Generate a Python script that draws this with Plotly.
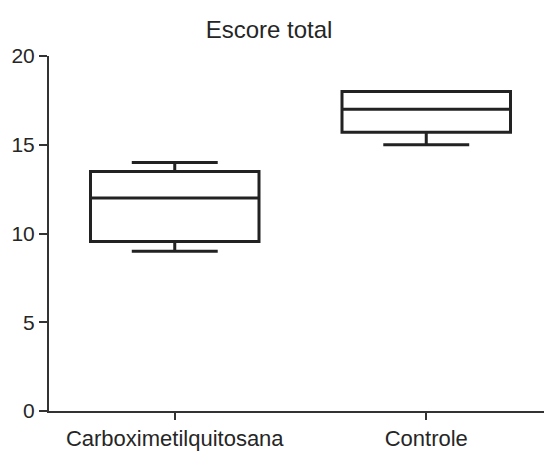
import plotly.graph_objects as go

categories = ["Carboximetilquitosana", "Controle"]
q1 = [9.55, 15.7]
median = [12.0, 17.0]
q3 = [13.5, 18.0]
lower = [9.0, 15.0]
upper = [14.0, 18.0]
y_ticks = [0, 5, 10, 15, 20]

W, H = 544, 443

fig = go.Figure()
fig.add_trace(go.Box(
    x=categories, q1=q1, median=median, q3=q3,
    lowerfence=lower, upperfence=upper,
    width=0.67, whiskerwidth=0.51,
    line=dict(color="#222222", width=3),
    fillcolor="rgba(0,0,0,0)", boxpoints=False, showlegend=False,
))

fig.update_layout(
    width=W, height=H,
    margin=dict(l=41, r=0, t=48, b=40),
    paper_bgcolor="white", plot_bgcolor="white",
    font=dict(family="Liberation Sans, Arial, sans-serif", size=21, color="#262626"),
    title=dict(text="Escore total", x=261/W, xanchor="center", y=1-22/H, yanchor="middle",
               font=dict(size=24, color="#262626")),
    xaxis=dict(range=[-0.5, 1.5], showline=True, linecolor="#333333", linewidth=2,
               ticks="outside", ticklen=7, tickwidth=2, tickcolor="#333333",
               showgrid=False, zeroline=False, tickfont=dict(size=22)),
    yaxis=dict(range=[0, 20], tickvals=y_ticks, showline=True, linecolor="#333333", linewidth=2,
               ticks="outside", ticklen=8, tickwidth=2, tickcolor="#333333",
               showgrid=False, zeroline=False, tickfont=dict(size=21)),
)

fig.write_html("out.html")
